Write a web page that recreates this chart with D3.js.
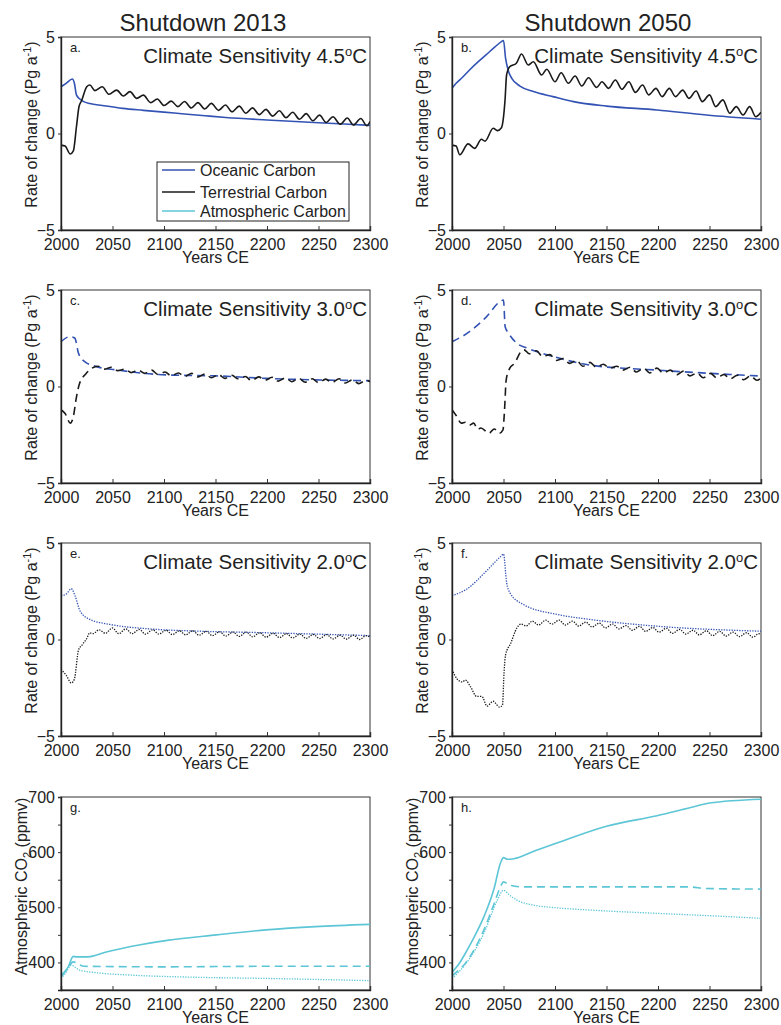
<!DOCTYPE html>
<html>
<head>
<meta charset="utf-8">
<script src="https://cdn.jsdelivr.net/npm/d3@7"></script>
<style>
  html, body { margin: 0; padding: 0; background: #fff; }
  text { font-family: "Liberation Sans", Arial, Helvetica, sans-serif; fill: #222; }
</style>
</head>
<body>
<svg id="chart" width="781" height="1025"></svg>
<script>
// ---------------- DATA ----------------
const xTicks = [2000, 2050, 2100, 2150, 2200, 2250, 2300];
const rateTicks = [-5, 0, 5];
const co2Ticks = [400, 450, 500, 550, 600, 650, 700];
const co2LabelTicks = [400, 500, 600, 700];
const columnTitles = ["Shutdown 2013", "Shutdown 2050"];
const sensitivities = ["4.5", "3.0", "2.0"];
const panelLetters = ["a.", "b.", "c.", "d.", "e.", "f.", "g.", "h."];
const legendLabels = ["Oceanic Carbon", "Terrestrial Carbon", "Atmospheric Carbon"];

// Panel a: 4.5 °C, shutdown 2013
const ocean45_2013 = [[2000,2.42],[2005,2.6],[2011,2.82],[2013,2.6],[2015,2.0],[2018,1.8],[2022,1.65],[2028,1.55],[2040,1.45],[2060,1.3],[2080,1.2],[2110,1.06],[2140,0.92],[2160,0.83],[2200,0.70],[2250,0.56],[2300,0.42]];
const terr45_2013 = [[2000,-0.6],[2004,-0.65],[2009,-1.06],[2012,-0.9],[2015,0.35],[2017.5,1.4],[2020,1.7],[2025,2.42],[2028,2.51],[2033,2.22],[2040,2.42],[2046.6,2.03],[2054,2.25],[2060.5,1.94],[2067,2.17],[2073.5,1.82],[2080,1.99],[2087,1.6],[2093.5,1.79],[2100,1.45],[2107,1.68],[2113.5,1.39],[2120,1.66],[2126.5,1.32],[2133,1.6],[2139.5,1.27],[2146,1.56],[2153,1.2],[2159.7,1.48],[2166,1.12],[2173,1.42],[2179.5,1.05],[2186,1.33],[2192.5,0.98],[2199,1.25],[2205.5,0.9],[2212,1.18],[2218.5,0.82],[2225,1.1],[2231.5,0.74],[2238,1.03],[2244.5,0.66],[2251,0.95],[2257.5,0.57],[2264,0.87],[2271,0.48],[2278,0.8],[2284,0.44],[2291,0.78],[2297,0.4],[2300,0.62]];

// Panel b: 4.5 °C, shutdown 2050
const ocean45_2050 = [[2000,2.34],[2004,2.6],[2010,2.9],[2017,3.29],[2025,3.7],[2033,4.07],[2042,4.5],[2048,4.76],[2050,4.82],[2052,3.9],[2055,3.2],[2058,2.86],[2066,2.46],[2079,2.17],[2098,1.91],[2118,1.65],[2150,1.42],[2199,1.22],[2247,0.96],[2300,0.74]];
const terr45_2050 = [[2000,-0.6],[2004,-0.65],[2007.5,-1.1],[2015.6,-0.54],[2022,-0.77],[2028.6,-0.3],[2032,-0.4],[2040,0.27],[2044,0.15],[2048,0.3],[2051.5,1.74],[2053,3.03],[2056,3.46],[2062.5,3.64],[2067.5,4.12],[2074,3.55],[2079,3.72],[2087,3.03],[2092,3.33],[2100,2.68],[2106,3.15],[2113,2.6],[2119.5,2.98],[2126,2.46],[2132.5,2.89],[2140.5,2.39],[2145.6,2.68],[2152,2.34],[2158.6,2.77],[2165,2.29],[2171.7,2.68],[2178,2.13],[2185,2.51],[2191,2.0],[2198,2.34],[2204,1.91],[2211,2.34],[2217,1.91],[2224,2.25],[2230,1.82],[2237,2.2],[2243,1.65],[2250,2.0],[2256,1.39],[2263,1.74],[2269.6,1.05],[2276,1.39],[2282.6,0.96],[2289,1.39],[2295,0.87],[2300,1.1]];

// Panel c: 3.0 °C, shutdown 2013
const ocean30_2013 = [[2000,2.32],[2009,2.59],[2013.5,2.5],[2017,1.72],[2023,1.29],[2034.6,1.03],[2054,0.86],[2102,0.6],[2151,0.55],[2199,0.42],[2300,0.3]];
const terr30_2013 = [[2000,-1.2],[2004,-1.4],[2009,-1.9],[2012,-1.55],[2015,-0.55],[2018,0.15],[2024,0.65],[2030,0.95],[2036,1.05],[2042,0.9],[2049,1.0],[2055,0.82],[2062,0.9],[2068,0.72],[2075,0.85],[2081,0.68],[2088,0.85],[2094,0.62],[2101,0.75],[2107,0.55],[2114,0.7],[2120,0.52],[2127,0.68],[2133,0.5],[2140,0.65],[2146,0.45],[2153,0.62],[2159,0.42],[2166,0.58],[2172,0.4],[2179,0.52],[2185,0.3],[2192,0.5],[2198,0.32],[2205,0.48],[2211,0.28],[2218,0.45],[2224,0.25],[2231,0.42],[2237,0.22],[2244,0.4],[2250,0.2],[2257,0.38],[2263,0.2],[2270,0.4],[2276,0.18],[2283,0.35],[2289,0.15],[2296,0.32],[2300,0.25]];

// Panel d: 3.0 °C, shutdown 2050
const ocean30_2050 = [[2000,2.32],[2017,2.84],[2033.6,3.62],[2046.6,4.4],[2050,4.48],[2051.6,3.1],[2055,2.76],[2063,2.24],[2073,1.99],[2102,1.5],[2134,1.11],[2199,0.85],[2300,0.54]];
const terr30_2050 = [[2000,-1.2],[2004,-1.5],[2009,-1.9],[2013,-1.85],[2017,-2.0],[2021,-1.9],[2025,-2.22],[2028,-2.15],[2036,-2.42],[2041,-2.2],[2046,-2.42],[2049.5,-2.25],[2051,-1.22],[2052.6,0.34],[2056,0.94],[2060.7,1.2],[2067,1.81],[2070,1.9],[2075,1.7],[2082,1.85],[2088,1.55],[2095,1.65],[2101,1.35],[2108,1.45],[2114,1.2],[2121,1.35],[2127,1.05],[2134,1.25],[2140,1.0],[2147,1.15],[2153,0.95],[2160,1.05],[2166,0.85],[2173,1.0],[2179,0.75],[2186,0.95],[2192,0.7],[2199,0.95],[2205,0.7],[2212,0.85],[2218,0.6],[2225,0.8],[2231,0.55],[2238,0.7],[2244,0.45],[2251,0.68],[2257,0.45],[2264,0.62],[2270,0.4],[2277,0.58],[2283,0.35],[2290,0.55],[2296,0.32],[2300,0.45]];

// Panel e: 2.0 °C, shutdown 2013
const ocean20_2013 = [[2000,2.27],[2005,2.35],[2010,2.63],[2013.6,2.27],[2018.6,1.47],[2028,1.04],[2047.6,0.78],[2086,0.55],[2135,0.43],[2199,0.35],[2300,0.2]];
const terr20_2013 = [[2000,-1.55],[2005,-1.85],[2010,-2.25],[2013,-2.05],[2017,-0.55],[2021,-0.25],[2025,0.05],[2028,0.35],[2031,0.3],[2037,0.5],[2043,0.32],[2050,0.6],[2056,0.3],[2063,0.55],[2069,0.3],[2076,0.52],[2082,0.28],[2089,0.5],[2095,0.28],[2102,0.48],[2108,0.26],[2115,0.45],[2121,0.24],[2128,0.45],[2134,0.22],[2141,0.42],[2147,0.2],[2154,0.4],[2160,0.18],[2167,0.38],[2173,0.16],[2180,0.38],[2186,0.14],[2193,0.35],[2199,0.12],[2206,0.32],[2212,0.1],[2219,0.3],[2225,0.08],[2232,0.28],[2238,0.06],[2245,0.26],[2251,0.05],[2258,0.25],[2264,0.03],[2271,0.22],[2277,0.02],[2284,0.22],[2290,0.0],[2296,0.2],[2300,0.12]];

// Panel f: 2.0 °C, shutdown 2050
const ocean20_2050 = [[2000,2.27],[2014,2.6],[2033.6,3.56],[2048,4.34],[2050,4.43],[2053,2.96],[2056,2.44],[2069,1.82],[2102,1.3],[2134,1.04],[2199,0.69],[2300,0.43]];
const terr20_2050 = [[2000,-1.55],[2005,-2.05],[2010,-2.2],[2013,-2.1],[2018,-2.45],[2024,-2.95],[2029,-2.95],[2034,-3.45],[2040,-3.2],[2046,-3.5],[2049,-3.4],[2050.5,-1.75],[2052,-0.8],[2057,-0.2],[2063,0.6],[2067,0.8],[2072,0.7],[2078,0.95],[2084,0.75],[2091,1.0],[2097,0.8],[2104,1.0],[2110,0.75],[2117,0.95],[2123,0.7],[2130,0.9],[2136,0.65],[2143,0.85],[2149,0.6],[2156,0.8],[2162,0.55],[2169,0.72],[2175,0.48],[2182,0.68],[2188,0.42],[2195,0.62],[2201,0.38],[2208,0.58],[2214,0.32],[2221,0.52],[2227,0.28],[2234,0.48],[2240,0.24],[2247,0.45],[2253,0.2],[2260,0.42],[2266,0.18],[2273,0.38],[2279,0.15],[2286,0.35],[2292,0.12],[2298,0.3],[2300,0.28]];

// Panel g: atmospheric CO2, shutdown 2013 (4.5 solid, 3.0 dashed, 2.0 dotted)
const co2_45_2013 = [[2000,374],[2007,392],[2012,411],[2015,410],[2026,410],[2044,419],[2077,432],[2103,440],[2151,450],[2199,459],[2247,465],[2300,469]];
const co2_30_2013 = [[2000,376],[2006,388],[2012,401],[2017,397],[2022,393],[2100,392],[2200,393],[2300,393]];
const co2_20_2013 = [[2000,371],[2005,382],[2010,395],[2014,391],[2018,386],[2036,381],[2068,377],[2133,373],[2199,371],[2300,367]];

// Panel h: atmospheric CO2, shutdown 2050
const co2_45_2050 = [[2000,382],[2007,398],[2014,420],[2021,444],[2031,483],[2041,535],[2047,580],[2050,590],[2054,587],[2060,588],[2080,602],[2101,616],[2150,647],[2199,666],[2230,680],[2250,689],[2300,696]];
const co2_30_2050 = [[2000,376],[2014,401],[2031,459],[2041,507],[2047,537],[2050,546],[2056,540],[2069,537],[2230,537],[2247,534],[2300,533]];
const co2_20_2050 = [[2000,371],[2014,399],[2031,453],[2044,513],[2050,531],[2056,522],[2063,513],[2079,504],[2102,499],[2134,495],[2199,489],[2247,485],[2300,480]];

// ---------------- LAYOUT ----------------
const BLUE = "#3353b4", BLACK = "#1a1a1a", CYAN = "#5cc6d6";
const cols = [{x0: 61, x1: 370, tx: 203}, {x0: 452, x1: 761, tx: 608}];
const rowTops = [37, 290, 543, 797];
const PH = 193;
const dashStyles = ["none", "8,5", "1.3,1.3"];
const widths = [1.6, 1.6, 1.3];

const svg = d3.select("#chart");
const FONT = "'Liberation Sans', Arial, Helvetica, sans-serif";

columnTitles.forEach((t, i) => {
  svg.append("text").attr("x", cols[i].tx).attr("y", 31)
    .attr("text-anchor", "middle").attr("font-size", 24).text(t);
});

function drawPanel(ci, ri, letter, yDomain, yTickVals, yLabelVals, series, opts) {
  const c = cols[ci];
  const top = rowTops[ri], bottom = top + PH;
  const x = d3.scaleLinear().domain([2000, 2300]).range([c.x0, c.x1]);
  const y = d3.scaleLinear().domain(yDomain).range([bottom, top]);
  const g = svg.append("g");

  const clipId = "clip" + ci + ri;
  svg.append("clipPath").attr("id", clipId).append("rect")
    .attr("x", c.x0).attr("y", top).attr("width", c.x1 - c.x0).attr("height", PH);

  g.append("rect").attr("x", c.x0).attr("y", top).attr("width", c.x1 - c.x0).attr("height", PH)
    .attr("fill", "none").attr("stroke", "#333").attr("stroke-width", 1);

  const line = d3.line().x(d => x(d[0])).y(d => y(d[1])).curve(d3.curveMonotoneX);
  series.forEach(s => {
    g.append("path").datum(s.data).attr("d", line)
      .attr("fill", "none").attr("stroke", s.color)
      .attr("stroke-width", s.width)
      .attr("stroke-dasharray", s.dash === "none" ? null : s.dash)
      .attr("clip-path", `url(#${clipId})`);
  });

  const xAxis = d3.axisBottom(x).tickValues(xTicks).tickSize(-4).tickPadding(8).tickFormat(d3.format("d"));
  const xa = g.append("g").attr("transform", `translate(0,${bottom})`).call(xAxis);
  xa.select(".domain").attr("stroke", "#222").attr("stroke-width", 1.4);
  xa.selectAll(".tick line").attr("stroke", "#333");
  xa.selectAll("text").attr("font-size", 16).attr("font-family", FONT).attr("fill", "#222").attr("dy", null).attr("y", 20);

  const yAxis = d3.axisLeft(y).tickValues(yTickVals).tickSize(3).tickPadding(3)
    .tickFormat(d => yLabelVals.includes(d) ? (d < 0 ? "\u2212" + Math.abs(d) : d) : "");
  const ya = g.append("g").attr("transform", `translate(${c.x0},0)`).call(yAxis);
  ya.select(".domain").attr("stroke", "#222").attr("stroke-width", 1.4);
  ya.selectAll(".tick line").attr("stroke", "#333");
  ya.selectAll("text").attr("font-size", 16).attr("font-family", FONT).attr("fill", "#222");

  g.append("text").attr("x", (c.x0 + c.x1) / 2).attr("y", bottom + 33)
    .attr("text-anchor", "middle").attr("font-size", 16).text("Years CE");

  g.append("text").attr("x", c.x0 + 9).attr("y", top + 15).attr("font-size", 13).text(letter);

  const labX = c.x0 - (opts.co2 ? 34 : 24);
  const yl = g.append("text").attr("transform", `translate(${labX},${opts.ylabY}) rotate(-90)`)
    .attr("text-anchor", "middle").attr("font-size", 16);
  if (opts.co2) {
    yl.append("tspan").text("Atmospheric CO");
    yl.append("tspan").attr("font-size", 11).attr("dy", 4).text("2");
    yl.append("tspan").attr("dy", -4).text(" (ppmv)");
  } else {
    yl.append("tspan").text("Rate of change (Pg a");
    yl.append("tspan").attr("font-size", 11).attr("dy", -6).text("-1");
    yl.append("tspan").attr("dy", 6).text(")");
  }

  if (opts.sens) {
    const st = g.append("text").attr("x", c.x1 - 3).attr("y", top + 26)
      .attr("text-anchor", "end").attr("font-size", 20.5);
    st.append("tspan").text("Climate Sensitivity " + opts.sens);
    st.append("tspan").attr("font-size", 13).attr("dy", -7).text("o");
    st.append("tspan").attr("dy", 7).text("C");
  }
  return {x, y, g};
}

const rateDomain = [-5, 5];
const rateSets = [
  [ocean45_2013, terr45_2013, ocean45_2050, terr45_2050],
  [ocean30_2013, terr30_2013, ocean30_2050, terr30_2050],
  [ocean20_2013, terr20_2013, ocean20_2050, terr20_2050]
];

rateSets.forEach((set, ri) => {
  [0, 1].forEach(ci => {
    const ocean = set[ci * 2], terr = set[ci * 2 + 1];
    drawPanel(ci, ri, panelLetters[ri * 2 + ci], rateDomain, rateTicks, rateTicks, [
      {data: ocean, color: BLUE, dash: dashStyles[ri], width: widths[ri]},
      {data: terr, color: BLACK, dash: dashStyles[ri], width: widths[ri]}
    ], {sens: sensitivities[ri], ylabY: rowTops[ri] + PH / 2 - 9});
  });
});

const co2Sets = [
  [co2_45_2013, co2_30_2013, co2_20_2013],
  [co2_45_2050, co2_30_2050, co2_20_2050]
];
co2Sets.forEach((set, ci) => {
  drawPanel(ci, 3, panelLetters[6 + ci], [350, 700], co2Ticks, co2LabelTicks,
    set.map((d, k) => ({data: d, color: CYAN, dash: dashStyles[k], width: widths[k]})),
    {co2: true, ylabY: rowTops[3] + PH / 2 - 7});
});

const lg = svg.append("g");
lg.append("rect").attr("x", 157).attr("y", 162).attr("width", 192).attr("height", 59)
  .attr("fill", "#fff").attr("stroke", "#222").attr("stroke-width", 1);
const legendColors = [BLUE, BLACK, CYAN];
const legendY = [170, 192, 211];
legendLabels.forEach((lab, i) => {
  lg.append("line").attr("x1", 162).attr("x2", 195).attr("y1", legendY[i]).attr("y2", legendY[i])
    .attr("stroke", legendColors[i]).attr("stroke-width", 1.6);
  lg.append("text").attr("x", 200).attr("y", legendY[i] + 6).attr("font-size", 16).text(lab);
});
</script>
</body>
</html>
